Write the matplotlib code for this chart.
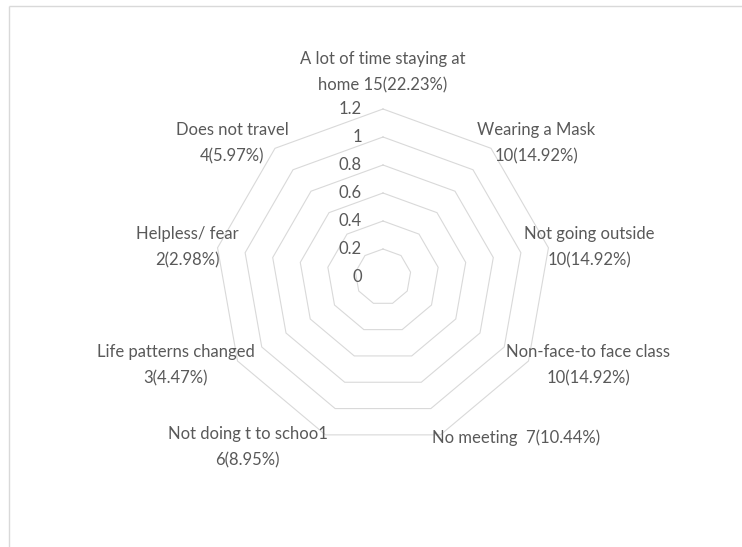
import numpy as np
import matplotlib
matplotlib.use("Agg")
import matplotlib.pyplot as plt

# categories of the radar chart (clockwise from the top)
categories = [
    "A lot of time staying at\nhome",
    "Wearing a Mask",
    "Not going outside",
    "Non-face-to face class",
    "No meeting ",
    "Not doing t to schoo1",
    "Life patterns changed",
    "Helpless/ fear",
    "Does not travel",
]
counts = [15, 10, 10, 10, 7, 6, 3, 2, 4]
percents = [22.23, 14.92, 14.92, 14.92, 10.44, 8.95, 4.47, 2.98, 5.97]
# the count goes on the same line for some labels, on a new line for others
same_line = [True, False, False, False, True, False, False, False, False]
ticks = [0, 0.2, 0.4, 0.6, 0.8, 1, 1.2]

# label offsets from the outer vertex, in pixels (x right, y up)
label_offsets = [(0, 37), (45, 5), (41, 1), (60, -4), (76, -3),
                 (-78, -12), (-62, -4), (-30, 1), (-43, 5)]

grid_col = "#d9d9d9"
text_col = "#595959"
font = ["Lato", "DejaVu Sans"]
fsize = 12

fig = plt.figure(figsize=(7.42, 5.47), dpi=100)
ax = fig.add_axes([0, 0, 1, 1])
# centre of the radar at pixel (383, 277), 140 px per unit
ax.set_xlim(-383 / 140, (742 - 383) / 140)
ax.set_ylim(-(547 - 277) / 140, 277 / 140)
ax.axis("off")

n = len(categories)
ang = np.pi / 2 - 2 * np.pi * np.arange(n) / n

# polygon gridlines
for t in ticks[1:]:
    xs = t * np.cos(ang)
    ys = t * np.sin(ang)
    ax.plot(np.append(xs, xs[0]), np.append(ys, ys[0]),
            color=grid_col, lw=0.8, solid_joinstyle="miter")

# value axis labels
for t in ticks:
    ax.annotate(f"{t:g}", (0, t), xytext=(-21, 0), textcoords="offset pixels",
                ha="right", va="center", fontsize=fsize, color=text_col,
                family=font)

# category labels
rmax = ticks[-1]
for i in range(n):
    sep = " " if same_line[i] else "\n"
    if i == 0:
        lab = f"{categories[i]} {counts[i]}({percents[i]:.2f}%)"
    else:
        lab = f"{categories[i]}{sep}{counts[i]}({percents[i]:.2f}%)"
    ax.annotate(lab, (rmax * np.cos(ang[i]), rmax * np.sin(ang[i])),
                xytext=label_offsets[i], textcoords="offset pixels",
                ha="center", va="center", multialignment="center",
                fontsize=fsize, color=text_col, family=font, linespacing=1.8)

# chart area border (clipped at the top and left)
ax.plot([-374 / 140, 359 / 140], [271 / 140, 271 / 140], color=grid_col, lw=1,
        solid_capstyle="butt")
ax.plot([-374 / 140, -374 / 140], [271 / 140, -270 / 140], color=grid_col, lw=1,
        solid_capstyle="butt")

fig.savefig("out.png", dpi=100)
